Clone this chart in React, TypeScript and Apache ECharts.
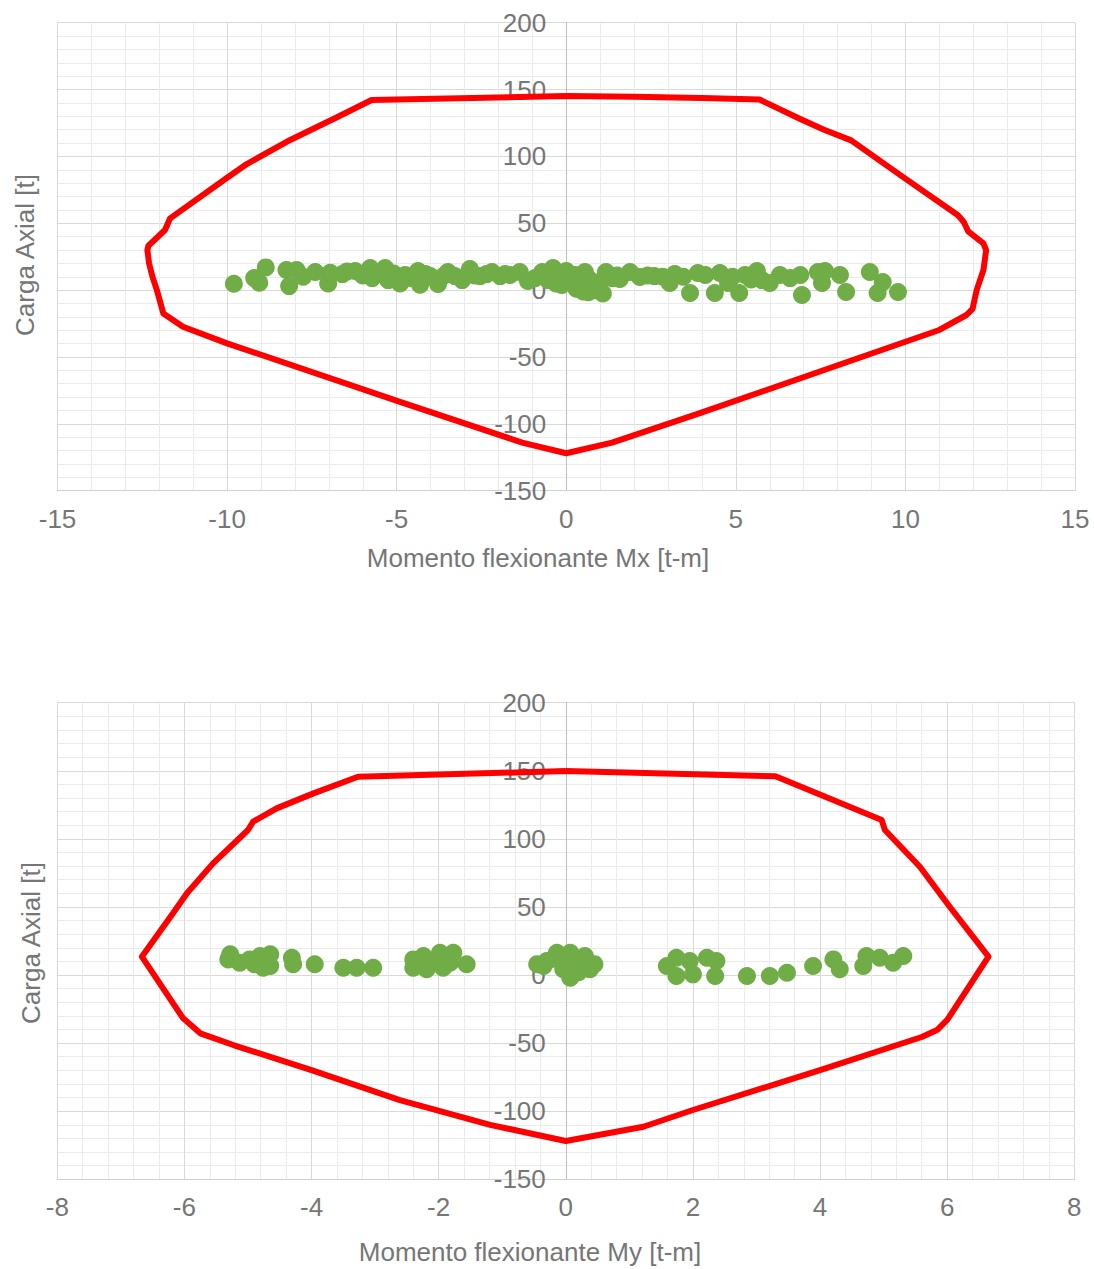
import React, { useEffect, useRef } from "react";
import * as echarts from "echarts";

// Interaction envelope, Mx chart (x: Mx [t-m], y: P [t])
const envMxX = [0, 2, 4, 5.7, 5.95, 6.9, 7.6, 8.4, 9.85, 11.55, 11.72, 11.85, 12.3, 12.38, 12.3, 12.1, 11.98, 11.8, 11.0, 10.0, 3.94, 1.35, 0, -1.3, -4.9, -10.0, -11.3, -11.88, -12.07, -12.2, -12.3, -12.35, -12.32, -11.83, -11.68, -10.0, -9.42, -8.14, -7.17, -6.82, -5.74, 0];
const envMxY = [145.2, 144.6, 143.6, 142.5, 139.5, 128, 120, 112, 86, 56, 51, 44, 35, 30, 15, 0, -14, -18.6, -29.8, -38.6, -92, -114, -122, -114, -83.5, -39.8, -27.4, -17.4, 0, 10, 20, 30, 33.2, 45, 53.7, 84, 94.3, 112.3, 124.2, 128.5, 142.2, 145.2];

// Load points, Mx chart
const ptMxX = [-9.8, -9.2, -9.05, -8.86, -8.25, -8.17, -7.95, -7.76, -7.4, -7.02, -6.96, -6.6, -6.46, -6.22, -6.0, -5.78, -5.72, -5.5, -5.34, -5.25, -5.1, -4.9, -4.75, -4.55, -4.37, -4.31, -4.15, -4.01, -3.78, -3.6, -3.49, -3.28, -3.07, -2.84, -2.7, -2.54, -2.35, -2.19, -1.95, -1.8, -1.66, -1.37, -1.13, -0.92, -0.71, -0.54, -0.39, -0.24, -0.13, 0, 0.11, 0.26, 0.4, 0.55, 0.7, 0.85, 1.08, 0.5, 1.17, 1.35, 1.58, 1.88, 2.17, 2.4, 2.6, 2.85, 3.05, 3.2, 3.45, 3.65, 3.88, 4.1, 4.38, 4.53, 4.77, 4.9, 5.1, 5.27, 5.45, 5.62, 5.77, 6.0, 6.3, 6.6, 6.9, 6.95, 7.42, 7.54, 7.63, 8.07, 8.25, 8.95, 9.33, 9.18, 9.78, 0.3, 0.65, 0.2, -0.3, 1.0, 0.75, -0.6, 1.5];
const ptMxY = [4.8, 9, 5.5, 17, 15, 3, 15, 10, 13.5, 5, 13, 12, 14, 14.3, 11, 16.5, 9, 12, 16.5, 7.5, 12.5, 5, 11.3, 9, 14.3, 4, 12, 10.5, 4.6, 11, 13.5, 10.5, 7.5, 15.8, 11, 10.5, 12, 13.5, 10.5, 12, 11.3, 13.5, 6.8, 9, 13.5, 7.5, 16.5, 10.5, 3.8, 14.3, 7.5, 11.3, 3.8, 13.5, 7.5, 0, -2.5, -1, 13.5, 9, 8.3, 13.5, 9.8, 11, 10.5, 10, 5.3, 12, 10, -2.2, 12.8, 11.3, -2.2, 12.8, 5.3, 10, -2.2, 11.3, 8, 14.3, 7.5, 5.3, 11.3, 9, 11.3, -3.6, 13.5, 5.3, 14.3, 11.3, -1.4, 13.5, 6, -2.2, -1.4, 1, -1.5, 5, 5, 6, 3, 11, 11];

// Interaction envelope, My chart
const envMyX = [0, 3.3, 4.97, 5.02, 5.57, 6.04, 6.65, 6.0, 5.84, 5.6, 4.0, 2.0, 1.22, 0, -1.19, -2.61, -4.0, -5.23, -5.75, -6.02, -6.67, -6.18, -5.96, -5.55, -5.0, -4.92, -4.55, -3.97, -3.27, 0];
const envMyY = [149.8, 146, 113.8, 106.5, 79.5, 50.2, 13.5, -33, -40.4, -45.5, -69.8, -99.1, -111.4, -121.9, -110, -91.8, -69.8, -51.4, -42.8, -31.8, 13.5, 45.3, 60, 82, 106.5, 112.6, 122.4, 133.4, 145.6, 149.8];

// Load points, My chart
const ptMyX = [-5.28, -5.31, -5.13, -4.97, -4.81, -4.65, -4.65, -4.76, -4.31, -4.29, -3.95, -3.5, -3.29, -3.03, -2.4, -2.4, -2.24, -1.98, -1.77, -1.93, -2.19, -1.56, -1.82, -0.3, -0.14, 0.07, 0.07, 0.28, 0.38, -0.04, -0.35, 0.15, -0.2, 1.59, 1.74, 1.74, 1.95, 2.0, 2.22, 2.37, 2.35, 2.85, 3.21, 3.48, 3.89, 4.21, 4.31, 4.68, 4.73, 4.94, 5.15, 5.31, -0.45, 0.45, 0.2, -0.1, 0.3, -2.05, -4.9];
const ptMyY = [15.2, 11.5, 9, 11.5, 14, 15.2, 6.6, 5.4, 12.7, 7.9, 7.9, 5.4, 5.4, 5.4, 11.5, 5.4, 14, 16.4, 16.4, 5.4, 4.2, 7.9, 9, 10.3, 16.4, 16.4, -2, 11.5, 4.2, 4.2, 6.6, 8, 12, 6.6, 12.7, -0.7, 10.3, 0.5, 12.7, 10.3, -0.7, -0.7, -0.7, 1.7, 6.6, 11.5, 4.2, 6.6, 14, 12.7, 9, 14, 8, 8, 2, 13, 14, 10, 8];

const xTitles = ["Momento flexionante Mx [t-m]", "Momento flexionante My [t-m]"];
const yTitle = "Carga Axial [t]";

const FONT = "'Liberation Sans', Arial, Helvetica, sans-serif";
const TXT = "#767676";

function pairs(xs: number[], ys: number[]) {
  return xs.map((x, i) => [x, ys[i]]);
}

function xAxisCfg(gridIndex: number, min: number, max: number, interval: number) {
  return {
    gridIndex,
    type: "value",
    min,
    max,
    interval,
    axisLine: { onZero: false, lineStyle: { color: "#d0d0d0", width: 1 } },
    axisTick: { show: false },
    axisLabel: { fontSize: 26, color: TXT, fontFamily: FONT, margin: 15 },
    splitLine: { show: true, lineStyle: { color: "#d9d9d9", width: 1 } },
    minorTick: { show: false, splitNumber: 5 },
    minorSplitLine: { show: true, lineStyle: { color: "#ebebeb", width: 1 } },
  };
}

// y axis drawn at the x = 0 position (offset moves it in from the left edge)
function yAxisCfg(gridIndex: number, offset: number) {
  return {
    gridIndex,
    type: "value",
    position: "left",
    offset,
    min: -150,
    max: 200,
    interval: 50,
    axisLine: { show: true, onZero: false, lineStyle: { color: "#bfbfbf", width: 1 } },
    axisTick: { show: false },
    axisLabel: { fontSize: 26, color: TXT, fontFamily: FONT, margin: 20 },
    splitLine: { show: true, lineStyle: { color: "#d9d9d9", width: 1 } },
    minorTick: { show: false, splitNumber: 5 },
    minorSplitLine: { show: true, lineStyle: { color: "#ebebeb", width: 1 } },
  };
}

export default function App() {
  const ref = useRef<HTMLDivElement>(null);
  useEffect(() => {
    if (!ref.current) return;
    const chart = echarts.init(ref.current, null, { renderer: "svg" });
    const g1 = { left: 57.5, top: 22.7, width: 1017.5, height: 468 };
    const g2 = { left: 57.3, top: 702.7, width: 1017, height: 476.6 };
    const option: any = {
      animation: false,
      backgroundColor: "#ffffff",
      grid: [
        { ...g1, containLabel: false, outerBoundsMode: "none" },
        { ...g2, containLabel: false, outerBoundsMode: "none" },
      ],
      xAxis: [xAxisCfg(0, -15, 15, 5), xAxisCfg(1, -8, 8, 2)],
      yAxis: [yAxisCfg(0, -g1.width / 2), yAxisCfg(1, -g2.width / 2)],
      series: [
        {
          type: "line",
          xAxisIndex: 0,
          yAxisIndex: 0,
          data: pairs(envMxX, envMxY),
          showSymbol: false,
          symbol: "none",
          lineStyle: { color: "#ff0000", width: 6, join: "round" },
          z: 3,
        },
        {
          type: "scatter",
          xAxisIndex: 0,
          yAxisIndex: 0,
          data: pairs(ptMxX, ptMxY),
          symbolSize: 18,
          itemStyle: { color: "#70ad47", opacity: 1 },
          z: 4,
        },
        {
          type: "line",
          xAxisIndex: 1,
          yAxisIndex: 1,
          data: pairs(envMyX, envMyY),
          showSymbol: false,
          symbol: "none",
          lineStyle: { color: "#ff0000", width: 6, join: "round" },
          z: 3,
        },
        {
          type: "scatter",
          xAxisIndex: 1,
          yAxisIndex: 1,
          data: pairs(ptMyX, ptMyY),
          symbolSize: 18,
          itemStyle: { color: "#70ad47", opacity: 1 },
          z: 4,
        },
      ],
      graphic: [
        {
          type: "text",
          x: 538,
          y: 558,
          style: { text: xTitles[0], fill: TXT, font: `26px ${FONT}`, textAlign: "center", textVerticalAlign: "middle" },
        },
        {
          type: "text",
          x: 530,
          y: 1252,
          style: { text: xTitles[1], fill: TXT, font: `26px ${FONT}`, textAlign: "center", textVerticalAlign: "middle" },
        },
        {
          type: "text",
          x: 25,
          y: 255,
          rotation: Math.PI / 2,
          style: { text: yTitle, fill: TXT, font: `26px ${FONT}`, textAlign: "center", textVerticalAlign: "middle" },
        },
        {
          type: "text",
          x: 31,
          y: 943,
          rotation: Math.PI / 2,
          style: { text: yTitle, fill: TXT, font: `26px ${FONT}`, textAlign: "center", textVerticalAlign: "middle" },
        },
      ],
    };
    chart.setOption(option);
    return () => chart.dispose();
  }, []);
  return (
    <div
      ref={ref}
      style={{ position: "absolute", left: 0, top: 0, width: 1094, height: 1269, background: "#fff" }}
    />
  );
}
